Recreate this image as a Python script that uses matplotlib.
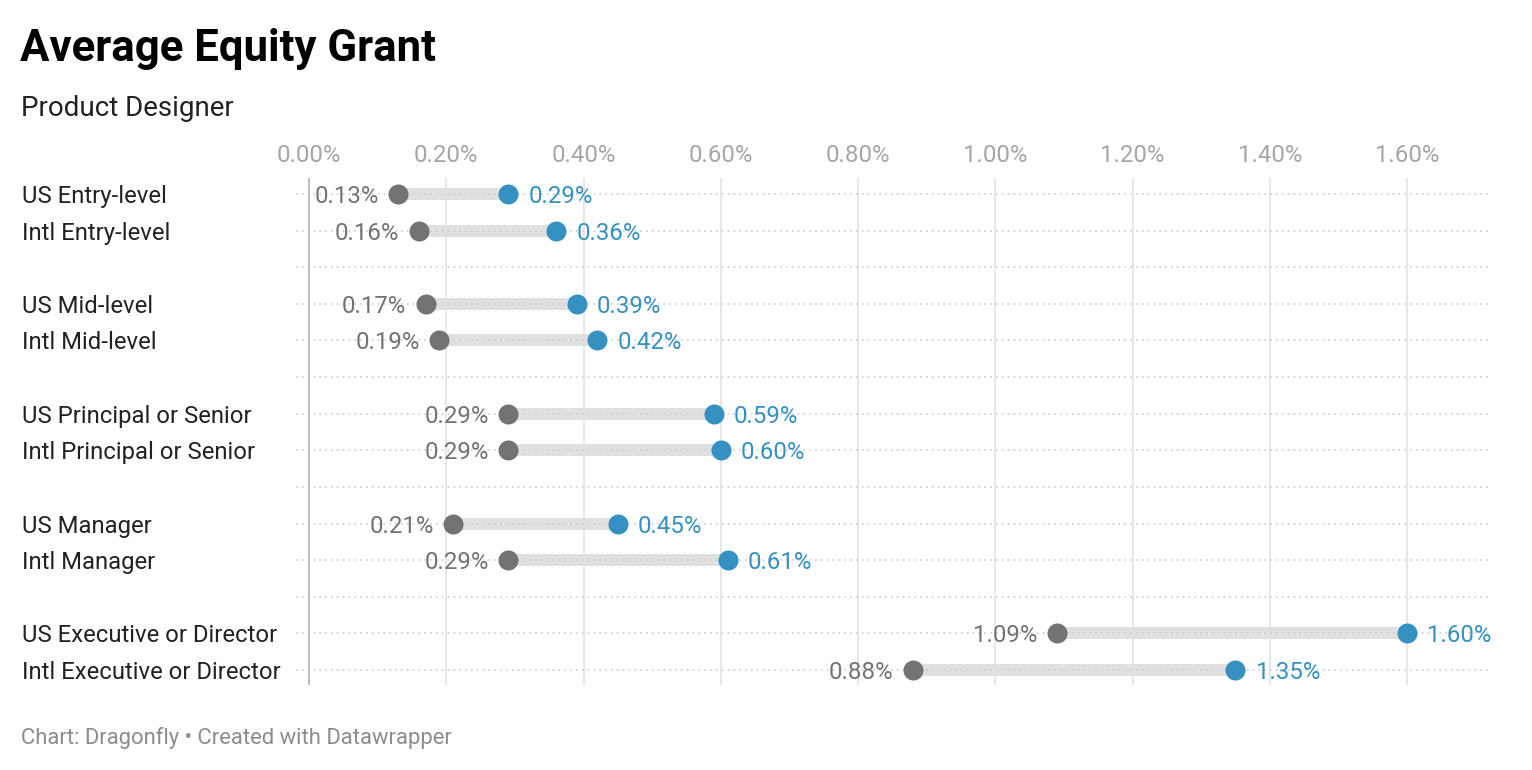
import numpy as np
import matplotlib.pyplot as plt
import matplotlib.transforms as mtransforms

plt.rcParams['font.family'] = ['Roboto', 'DejaVu Sans']

# data (percent)
groups = ['Entry-level', 'Mid-level', 'Principal or Senior', 'Manager', 'Executive or Director']
labels = ['US Entry-level', 'Intl Entry-level',
          'US Mid-level', 'Intl Mid-level',
          'US Principal or Senior', 'Intl Principal or Senior',
          'US Manager', 'Intl Manager',
          'US Executive or Director', 'Intl Executive or Director']
low = [0.13, 0.16, 0.17, 0.19, 0.29, 0.29, 0.21, 0.29, 1.09, 0.88]
high = [0.29, 0.36, 0.39, 0.42, 0.59, 0.60, 0.45, 0.61, 1.60, 1.35]
xticks = [0.0, 0.2, 0.4, 0.6, 0.8, 1.0, 1.2, 1.4, 1.6]

gray = '#737373'
blue = '#3591c2'

# rows: two per group, one blank row between groups
pos = []
for g in range(len(groups)):
    pos += [g * 3, g * 3 + 1]
pos = np.array(pos)
n_rows = pos.max() + 1

W, H = 1532, 770
fig = plt.figure(figsize=(W / 100, H / 100), dpi=100)
ax = fig.add_axes([296 / W, (H - 685) / H, (1490 - 296) / W, (685 - 178) / H])

ppu = (1407 - 309) / 1.6
ax.set_xlim(-(309 - 296) / ppu, (1490 - 309) / ppu)
rpx = (670 - 194) / 13
ax.set_ylim(13 + 15 / rpx, -16 / rpx)

for s in ax.spines.values():
    s.set_visible(False)
ax.set_yticks([])

# vertical gridlines
for t in xticks:
    ax.axvline(t, color='#bdbdbd' if t == 0 else '#e3e3e3', lw=1.5 if t == 0 else 1.2, zorder=0)

ax.xaxis.tick_top()
ax.set_xticks(xticks)
ax.set_xticklabels([f'{t:.2f}%' for t in xticks], color='#a6a6a6', fontsize=17.3)
ax.tick_params(axis='x', length=0, pad=8)

# range bars
ax.hlines(pos, low, high, color='#e0e0e0', lw=8.6, capstyle='butt', zorder=1)

# dotted row lines
for r in range(n_rows):
    ax.axhline(r, color='#cccccc', lw=1.2, ls=(0, (1, 2.5)), zorder=2)

ax.plot(low, pos, 'o', color=gray, ms=14.4, mec='none', zorder=3)
ax.plot(high, pos, 'o', color=blue, ms=14.4, mec='none', zorder=3)

for lo, hi, p in zip(low, high, pos):
    ax.annotate(f'{lo:.2f}%', (lo, p), xytext=(-14, 0), textcoords='offset points',
                ha='right', va='center_baseline', color=gray, fontsize=17.3)
    ax.annotate(f'{hi:.2f}%', (hi, p), xytext=(14.5, 0), textcoords='offset points',
                ha='left', va='center_baseline', color=blue, fontsize=17.3)

# row labels
tr = mtransforms.blended_transform_factory(fig.transFigure, ax.transData)
for lab, p in zip(labels, pos):
    ax.text(22 / W, p, lab, transform=tr, ha='left', va='center_baseline', fontsize=17.2,
            color='#222222')

fig.text(20 / W, 1 - 61 / H, 'Average Equity Grant', fontsize=31.5, fontweight='bold',
         color='#000000', va='baseline')
fig.text(21 / W, 1 - 116 / H, 'Product Designer', fontsize=20, color='#222222', va='baseline')
fig.text(21 / W, 1 - 744 / H, 'Chart: Dragonfly \u2022 Created with Datawrapper', fontsize=15.85,
         color='#8c8c8c', va='baseline')

fig.savefig('out.png', dpi=100, facecolor='white')
